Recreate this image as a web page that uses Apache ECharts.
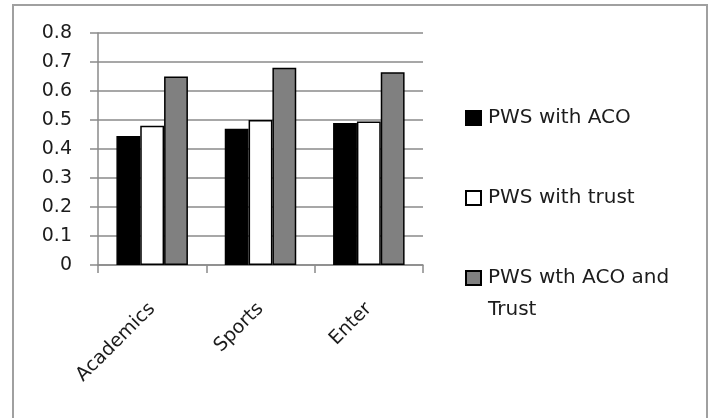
<!DOCTYPE html>
<html>
<head>
<meta charset="utf-8">
<script src="https://cdn.jsdelivr.net/npm/echarts@6/dist/echarts.min.js"></script>
<style>
  html, body { margin: 0; padding: 0; background: #fff; }
  #chart { width: 710px; height: 418px; }
</style>
</head>
<body>
<div id="chart"></div>
<script>
// Categories and series values
const categories = ['Academics', 'Sports', 'Enter'];
const seriesNames = ['PWS with ACO', 'PWS with trust', 'PWS wth ACO and Trust'];
const pwsAco = [0.445, 0.47, 0.49];
const pwsTrust = [0.48, 0.50, 0.495];
const pwsAcoTrust = [0.65, 0.68, 0.665];
const yTicks = [0, 0.1, 0.2, 0.3, 0.4, 0.5, 0.6, 0.7, 0.8];

const FONT = 'DejaVu Sans';
const TEXT = '#1c1c1c';
const AXIS = '#8a8a8a';
const LINE_H = 32;

const chart = echarts.init(document.getElementById('chart'), null, { renderer: 'canvas' });

// One legend block per series so each entry can sit at its own height
function legendAt(name, top, formatter) {
  const cfg = {
    data: [name],
    orient: 'vertical',
    left: 465,
    top: top,
    padding: 0,
    icon: 'rect',
    itemWidth: 15,
    itemHeight: 14,
    itemGap: 0,
    selectedMode: false,
    textStyle: { fontFamily: FONT, fontSize: 20, color: TEXT, lineHeight: LINE_H, padding: [0, 0, 0, 2] }
  };
  if (formatter) cfg.formatter = formatter;
  return cfg;
}

const barStyle = (fill) => ({ color: fill, borderColor: '#000', borderWidth: 1.5 });

chart.setOption({
  backgroundColor: '#fff',
  animation: false,
  graphic: [{
    type: 'rect',
    shape: { x: 13, y: 5, width: 694, height: 430 },
    style: { fill: 'none', stroke: '#a0a0a0', lineWidth: 2 }
  }],
  grid: { left: 98, top: 33, right: 287, bottom: 153 },
  legend: [
    legendAt(seriesNames[0], 118 - LINE_H / 2),
    legendAt(seriesNames[1], 198 - LINE_H / 2),
    // wrapped entry: a blank first line keeps the icon level with "PWS wth ACO and"
    legendAt(seriesNames[2], 278 - LINE_H * 1.5, () => '\nPWS wth ACO and\nTrust')
  ],
  xAxis: {
    type: 'category',
    data: categories,
    axisLine: { lineStyle: { color: AXIS, width: 1.5 } },
    axisTick: { show: true, length: 8, lineStyle: { color: AXIS, width: 1.5 } },
    axisLabel: {
      rotate: 45,
      margin: 41,
      fontFamily: FONT,
      fontSize: 19,
      color: TEXT
    }
  },
  yAxis: {
    type: 'value',
    min: yTicks[0],
    max: yTicks[yTicks.length - 1],
    interval: 0.1,
    axisLine: { show: true, lineStyle: { color: AXIS, width: 1.5 } },
    axisTick: { show: true, length: 8, lineStyle: { color: AXIS, width: 1.5 } },
    splitLine: { show: true, lineStyle: { color: AXIS, width: 1.5 } },
    axisLabel: {
      margin: 26,
      fontFamily: FONT,
      fontSize: 19,
      color: TEXT,
      formatter: (v) => String(Math.round(v * 10) / 10)
    }
  },
  series: [
    { name: seriesNames[0], type: 'bar', data: pwsAco, barGap: '0%', barCategoryGap: '34%', itemStyle: barStyle('#000000') },
    { name: seriesNames[1], type: 'bar', data: pwsTrust, barGap: '0%', barCategoryGap: '34%', itemStyle: barStyle('#ffffff') },
    { name: seriesNames[2], type: 'bar', data: pwsAcoTrust, barGap: '0%', barCategoryGap: '34%', itemStyle: barStyle('#808080') }
  ]
});
</script>
</body>
</html>
